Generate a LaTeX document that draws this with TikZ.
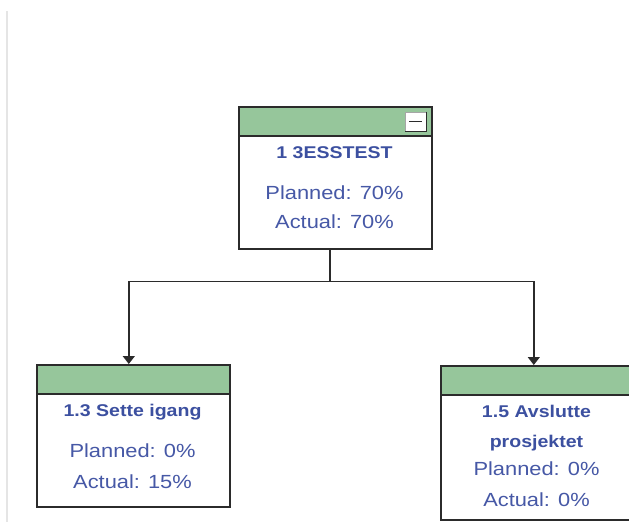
\documentclass[tikz,border=0pt]{standalone}
\usepackage{fontspec}
\setmainfont[FakeStretch=1.15]{Liberation Sans}
\usetikzlibrary{arrows.meta}
\definecolor{hdrgreen}{HTML}{96C69B}
\definecolor{txtblue}{HTML}{4658A6}
\definecolor{ttlblue}{HTML}{3C50A0}
\definecolor{edgecol}{HTML}{2B2B2B}
\begin{document}
\begin{tikzpicture}[x=1pt,y=-1pt,
  box/.style={draw=edgecol, line width=1.6pt, fill=white, minimum width=193pt,
    anchor=north west, inner sep=0pt,
    path picture={
      \fill[hdrgreen] (path picture bounding box.north west) rectangle ([yshift=-29pt]path picture bounding box.north east);
      \draw[edgecol, line width=1.6pt] ([yshift=-29pt]path picture bounding box.north west) -- ([yshift=-29pt]path picture bounding box.north east);
    }},
  ttl/.style={text=ttlblue, font=\fontsize{17}{20}\selectfont\bfseries, anchor=base, inner sep=0pt},
  val/.style={text=txtblue, font=\fontsize{19}{22}\selectfont, anchor=base, inner sep=0pt},
  conn/.style={draw=edgecol, line width=1.5pt},
  arr/.style={conn, -{Triangle[width=12pt,length=8pt]}},
  btn/.style={draw=gray!70, fill=white, line width=0.8pt, minimum width=21pt, minimum height=19pt, inner sep=0pt}
]
\useasboundingbox (0,0) rectangle (629,522);
\draw[line width=2pt, color=black!10] (7,11) -- (7,522);

% boxes
\node[box, minimum height=142pt] (top) at (238,106) {};
\node[box, minimum height=142pt] (left) at (36,364) {};
\node[box, minimum height=154pt] (right) at (440,365) {};

% collapse button
\node[btn] (btn) at (415.5,121.5) {};
\draw[edgecol, line width=1.2pt] (btn.north east) -- (btn.south east) -- (btn.south west);
\draw[edgecol, line width=1.4pt] ([xshift=-6.5pt]btn.center) -- ([xshift=6.5pt]btn.center);

% texts
\node[ttl] (t1) at (334.5,158) {1 3ESSTEST};
\node[val] (p1) at (334.5,199) {Planned: 70\%};
\node[val] (a1) at (334.5,228) {Actual: 70\%};

\node[ttl] (t2) at (132.5,416) {1.3 Sette igang};
\node[val] (p2) at (132.5,457) {Planned: 0\%};
\node[val] (a2) at (132.5,488) {Actual: 15\%};

\node[ttl] (t3) at (536.5,417) {1.5 Avslutte};
\node[ttl] (t3b) at (536.5,447) {prosjektet};
\node[val] (p3) at (536.5,475) {Planned: 0\%};
\node[val] (a3) at (536.5,506) {Actual: 0\%};

% connectors
\draw[conn] ([xshift=-5.5pt]top.south) -- ++(0,32) coordinate (j);
\draw[arr] (j) -| ([xshift=-4.5pt]left.north);
\draw[arr] (j) -| ([xshift=-3.5pt]right.north);
\end{tikzpicture}
\end{document}
